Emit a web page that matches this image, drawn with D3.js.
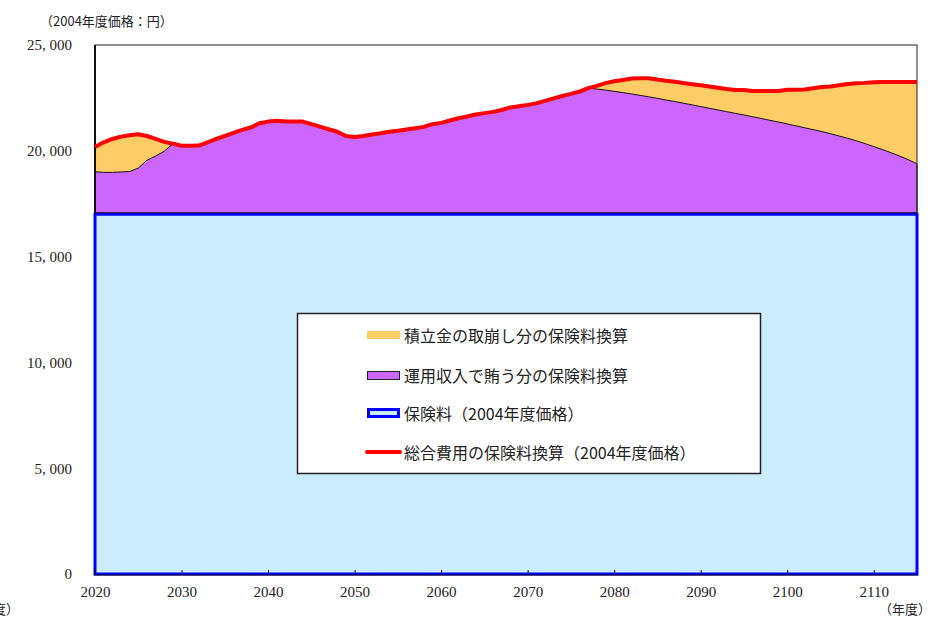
<!DOCTYPE html>
<html>
<head>
<meta charset="utf-8">
<script src="https://cdn.jsdelivr.net/npm/d3@7"></script>
<style>
  html, body { margin: 0; padding: 0; background: #fff; }
  svg { display: block; }
</style>
</head>
<body>
<svg id="chart" width="950" height="618"></svg>
<script>
// Fiscal years shown on the x axis
const years = d3.range(2020, 2116);

// 保険料（2004年度価格）: flat premium level, yen
const premiumLevel = 17000;

// Premium + investment-income share (top of the purple band), yen
const premiumPlusInvestment = [
  19010, 18980, 18980, 19000, 19020, 19180, 19550, 19750, 19980, 20330,
  20240, 20240, 20250, 20400, 20560, 20700, 20850, 20990, 21100, 21300,
  21380, 21420, 21380, 21380, 21380, 21260, 21140, 21020, 20900, 20700,
  20650, 20700, 20770, 20830, 20900, 20950, 21010, 21070, 21130, 21260,
  21320, 21430, 21540, 21620, 21720, 21780, 21840, 21930, 22050, 22110,
  22170, 22240, 22360, 22480, 22590, 22690, 22800, 22960, 22920, 22870,
  22810, 22750, 22690, 22620, 22550, 22480, 22400, 22330, 22250, 22170,
  22090, 22010, 21930, 21850, 21770, 21690, 21610, 21530, 21440, 21360,
  21270, 21180, 21090, 21000, 20910, 20810, 20700, 20590, 20470, 20340,
  20200, 20060, 19910, 19750, 19580, 19380
];

// 総合費用の保険料換算（2004年度価格）, yen
const totalCost = [
  20180, 20400, 20560, 20670, 20730, 20780, 20700, 20560, 20420, 20330,
  20240, 20240, 20250, 20400, 20560, 20700, 20850, 20990, 21100, 21300,
  21380, 21420, 21380, 21380, 21380, 21260, 21140, 21020, 20900, 20700,
  20650, 20700, 20770, 20830, 20900, 20950, 21010, 21070, 21130, 21260,
  21320, 21430, 21540, 21620, 21720, 21780, 21840, 21930, 22050, 22110,
  22170, 22240, 22360, 22480, 22590, 22690, 22800, 22960, 23070, 23200,
  23290, 23350, 23420, 23430, 23430, 23370, 23310, 23260, 23200, 23150,
  23100, 23040, 22980, 22920, 22870, 22870, 22830, 22830, 22830, 22830,
  22880, 22880, 22900, 22960, 23020, 23040, 23100, 23160, 23190, 23210,
  23240, 23250, 23250, 23250, 23250, 23250
];

const xTicks = [2020, 2030, 2040, 2050, 2060, 2070, 2080, 2090, 2100, 2110];
const yTicks = [0, 5000, 10000, 15000, 20000, 25000];

const legendItems = [
  { key: "drawdown", label: "積立金の取崩し分の保険料換算" },
  { key: "investment", label: "運用収入で賄う分の保険料換算" },
  { key: "premium", label: "保険料（2004年度価格）" },
  { key: "total", label: "総合費用の保険料換算（2004年度価格）" }
];

const colors = {
  drawdown: "#FFCC66",
  investment: "#CC66FF",
  premiumFill: "#CCECFF",
  premiumStroke: "#0000FF",
  total: "#FF0000"
};

const rows = years.map((yr, i) => ({
  year: yr,
  premium: premiumLevel,
  mid: premiumPlusInvestment[i],
  total: totalCost[i]
}));

const plot = { left: 95, right: 917, top: 45, bottom: 574 };
const svg = d3.select("#chart");

const x = d3.scaleLinear().domain([2020, 2115]).range([plot.left, plot.right]);
const y = d3.scaleLinear().domain([0, 25000]).range([plot.bottom, plot.top]);

const serif = "'Liberation Serif', 'DejaVu Serif', serif";
const jp = "'Noto Sans CJK JP', 'Noto Sans', sans-serif";

// Reserve drawdown band (between investment top and total cost)
svg.append("path")
  .datum(rows)
  .attr("fill", colors.drawdown)
  .attr("d", d3.area().x(d => x(d.year)).y0(d => y(d.mid)).y1(d => y(d.total)));

// Investment income band
svg.append("path")
  .datum(rows)
  .attr("fill", colors.investment)
  .attr("stroke", "#111")
  .attr("stroke-width", 1)
  .attr("d", d3.area().x(d => x(d.year)).y0(d => y(d.premium)).y1(d => y(d.mid)));

// Plot frame
svg.append("rect")
  .attr("x", plot.left).attr("y", plot.top)
  .attr("width", plot.right - plot.left).attr("height", plot.bottom - plot.top)
  .attr("fill", "none").attr("stroke", "#222").attr("stroke-width", 1);

svg.append("line")
  .attr("x1", plot.left).attr("x2", plot.left)
  .attr("y1", plot.top).attr("y2", plot.bottom)
  .attr("stroke", "#111").attr("stroke-width", 2);

// Premium block
svg.append("path")
  .datum(rows)
  .attr("fill", colors.premiumFill)
  .attr("stroke", colors.premiumStroke)
  .attr("stroke-width", 3)
  .attr("d", d3.area().x(d => x(d.year)).y0(y(0)).y1(d => y(d.premium)));

svg.append("line")
  .attr("x1", plot.left).attr("x2", plot.right)
  .attr("y1", y(premiumLevel) - 1.5).attr("y2", y(premiumLevel) - 1.5)
  .attr("stroke", "#111").attr("stroke-width", 1);

svg.append("line")
  .attr("x1", plot.left - 1).attr("x2", plot.right + 1)
  .attr("y1", plot.bottom + 1).attr("y2", plot.bottom + 1)
  .attr("stroke", "#111").attr("stroke-width", 1);

// Total cost line
svg.append("path")
  .datum(rows)
  .attr("fill", "none")
  .attr("stroke", colors.total)
  .attr("stroke-width", 4)
  .attr("stroke-linejoin", "round")
  .attr("d", d3.line().x(d => x(d.year)).y(d => y(d.total)));

// X axis
const xAxis = svg.append("g")
  .attr("transform", `translate(0,${plot.bottom})`)
  .call(d3.axisBottom(x).tickValues(xTicks).tickFormat(d3.format("d"))
    .tickSizeInner(-4).tickSizeOuter(0).tickPadding(12));
xAxis.select(".domain").remove();
xAxis.selectAll(".tick line").attr("stroke", "#111");
xAxis.selectAll("text").attr("font-family", serif).attr("font-size", 15).attr("fill", "#222");

// Y axis
const yAxis = svg.append("g")
  .attr("transform", `translate(${plot.left},0)`)
  .call(d3.axisLeft(y).tickValues(yTicks)
    .tickFormat(d => d3.format(",")(d).replace(",", ", "))
    .tickSize(0).tickPadding(23));
yAxis.select(".domain").remove();
yAxis.selectAll("text").attr("font-family", serif).attr("font-size", 15).attr("fill", "#222");

// Unit labels
svg.append("text")
  .attr("x", 40).attr("y", 20)
  .attr("dominant-baseline", "central")
  .attr("font-family", jp).attr("font-size", 13).attr("fill", "#222")
  .text("（2004年度価格：円）");

svg.append("text")
  .attr("x", 931).attr("y", 608)
  .attr("text-anchor", "end").attr("dominant-baseline", "central")
  .attr("font-family", jp).attr("font-size", 13).attr("fill", "#222")
  .text("（年度）");

svg.append("text")
  .attr("x", 19).attr("y", 608)
  .attr("text-anchor", "end").attr("dominant-baseline", "central")
  .attr("font-family", jp).attr("font-size", 13).attr("fill", "#222")
  .text("（年度）");

// Legend
const legend = svg.append("g");
legend.append("rect")
  .attr("x", 297.5).attr("y", 313.5).attr("width", 463).attr("height", 160)
  .attr("fill", "#fff").attr("stroke", "#222").attr("stroke-width", 1.5);

const rowY = [335, 375, 413, 452];
const sw = { x: 367, w: 33 };

legendItems.forEach((item, i) => {
  const cy = rowY[i];
  if (item.key === "drawdown") {
    legend.append("rect").attr("x", sw.x).attr("y", cy - 4).attr("width", sw.w).attr("height", 8)
      .attr("fill", colors.drawdown);
  } else if (item.key === "investment") {
    legend.append("rect").attr("x", sw.x + 0.5).attr("y", cy - 3.5).attr("width", sw.w - 1).attr("height", 8)
      .attr("fill", colors.investment).attr("stroke", "#222").attr("stroke-width", 1);
  } else if (item.key === "premium") {
    legend.append("rect").attr("x", sw.x + 1.5).attr("y", cy - 3.5).attr("width", sw.w - 3).attr("height", 7)
      .attr("fill", colors.premiumFill).attr("stroke", colors.premiumStroke).attr("stroke-width", 3);
  } else {
    legend.append("line").attr("x1", sw.x).attr("x2", sw.x + sw.w).attr("y1", cy).attr("y2", cy)
      .attr("stroke", colors.total).attr("stroke-width", 4).attr("stroke-linecap", "round");
  }
  legend.append("text")
    .attr("x", 404).attr("y", cy)
    .attr("dominant-baseline", "central")
    .attr("font-family", jp).attr("font-size", 16).attr("fill", "#222")
    .text(item.label);
});
</script>
</body>
</html>
